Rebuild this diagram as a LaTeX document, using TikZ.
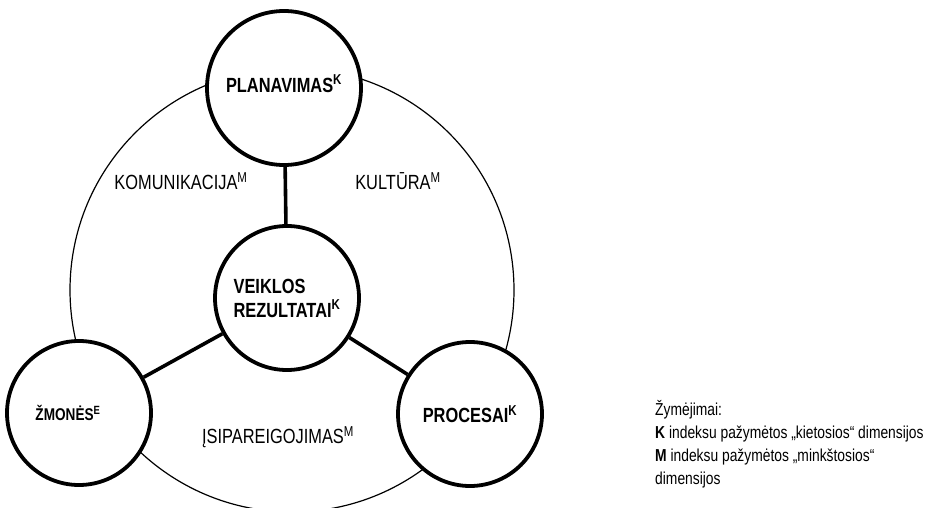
\documentclass[tikz,border=0pt]{standalone}
\usepackage{fontspec}
\setmainfont{Liberation Sans}[FakeStretch=0.8]
\usepackage{tikz}
\usetikzlibrary{positioning}

\begin{document}
\begin{tikzpicture}[x=1pt, y=-1pt,
    dim/.style={circle, draw, line width=3.8pt, fill=white, inner sep=0pt,
        minimum size=144pt, font=\fontsize{20.5}{24}\selectfont\bfseries},
    link/.style={line width=3.6pt},
    soft/.style={font=\fontsize{20.5}{22}\selectfont}]
    \clip (0,0) rectangle (927,508);

    % Outer ring
    \draw[line width=1.2pt] (292,290) circle (222);

    % Dimensions
    \node[dim, minimum size=154pt] (plan) at (284,88)
        {\raisebox{9pt}{PLANAVIMAS\textsuperscript{K}}};
    \node[dim, align=left] (rez) at (287,298) {VEIKLOS\\REZULTATAI\textsuperscript{K}};
    \node[dim, font=\fontsize{17}{20}\selectfont\bfseries] (zmon) at (79,413)
        {\hspace*{-22pt}ŽMONĖS\textsuperscript{E}};
    \node[dim] (proc) at (470,414) {PROCESAI\textsuperscript{K}};

    % Links to the result
    \draw[link] (plan) -- (rez);
    \draw[link] (rez) -- (zmon);
    \draw[link] (rez) -- (proc);

    % Soft dimensions
    \node[soft] (kom) at (181,181) {KOMUNIKACIJA\textsuperscript{M}};
    \node[soft] (kult) at (398,181) {KULTŪRA\textsuperscript{M}};
    \node[soft] (isip) at (278,437) {ĮSIPAREIGOJIMAS\textsuperscript{M}};

    % Legend
    \node[anchor=north west, align=left, inner sep=0pt,
        font=\fontsize{17.3}{23}\selectfont] (leg) at (655,400)
        {Žymėjimai:\\
         \textbf{K} indeksu pažymėtos „kietosios“ dimensijos\\
         \textbf{M} indeksu pažymėtos „minkštosios“\\
         dimensijos};
\end{tikzpicture}
\end{document}
